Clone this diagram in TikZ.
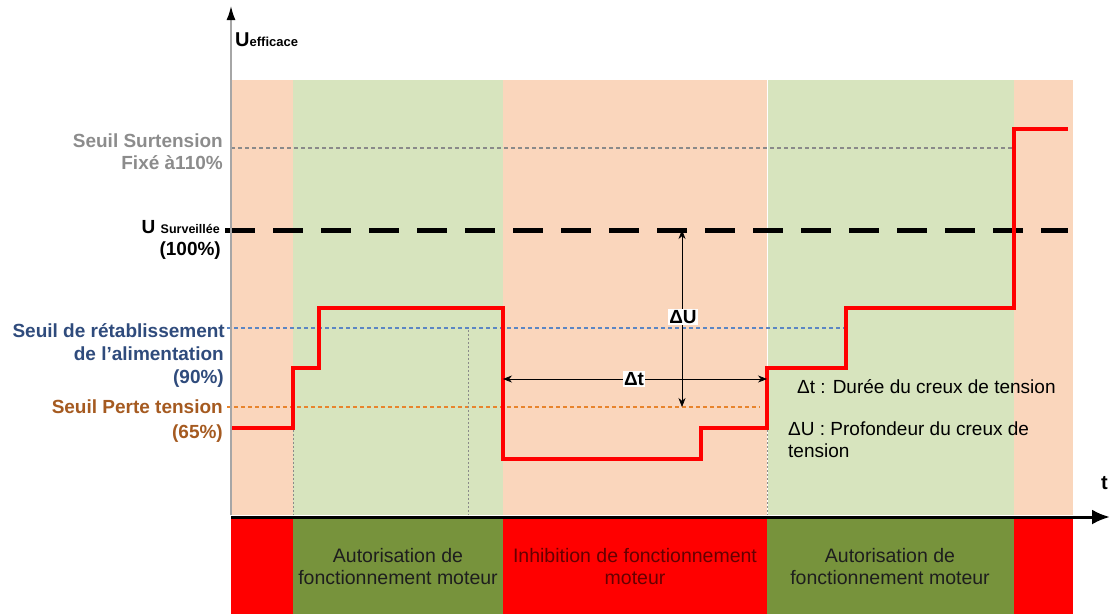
\documentclass[tikz,border=0pt]{standalone}
\usepackage{fontspec}
\setmainfont{Liberation Sans}
\usetikzlibrary{arrows.meta}

\definecolor{peach}{HTML}{FAD6BC}
\definecolor{sage}{HTML}{D7E4BE}
\definecolor{olive}{HTML}{77933C}
\definecolor{alarm}{HTML}{FF0000}
\definecolor{greylbl}{HTML}{8C8C8C}
\definecolor{bluelbl}{HTML}{2F4B7C}
\definecolor{brownlbl}{HTML}{A55A20}
\definecolor{bluedot}{HTML}{5B86C4}
\definecolor{orangedot}{HTML}{E8842C}
\definecolor{greydot}{HTML}{8A8A8A}
\definecolor{darkred}{HTML}{660000}
\definecolor{bartext}{HTML}{1E1E1E}

\newcommand\fsz[1]{\fontsize{#1}{#1}\selectfont}

\begin{document}
\begin{tikzpicture}[x=1pt,y=-1pt,
  lbl/.style={anchor=base east, inner sep=0pt, font=\fsz{19}\bfseries},
  note/.style={anchor=base west, inner sep=0pt, font=\fsz{19}},
  bartxt/.style={anchor=base, inner sep=0pt, font=\fsz{19.5}},
  thr/.style={line width=2pt, dash pattern=on 4pt off 3pt},
  guide/.style={greydot, line width=0.6pt, dash pattern=on 2pt off 2pt},
  dim/.style={line width=0.6pt, {Stealth[length=9pt,width=7pt]}-{Stealth[length=9pt,width=7pt]}},
  dimlbl/.style={fill=white, inner sep=1pt, font=\fsz{19}\bfseries},
  signal/.style={alarm, line width=4pt, line join=miter}
]
\useasboundingbox (0,0) rectangle (1110,614);

% state bands behind the curve
\fill[peach] (231,80) rectangle (293,515);
\fill[sage]  (293,80) rectangle (503,515);
\fill[peach] (503,80) rectangle (767,515);
\fill[sage]  (767,80) rectangle (1014,515);
\fill[peach] (1014,80) rectangle (1073,515);
\draw[white, line width=1pt] (767,80) -- (767,515);

% motor state bar
\fill[alarm] (231,518) rectangle (293,614);
\fill[olive] (293,518) rectangle (503,614);
\fill[alarm] (503,518) rectangle (767,614);
\fill[olive] (767,518) rectangle (1014,614);
\fill[alarm] (1014,518) rectangle (1073,614);

\node[bartxt, text=bartext] (a1) at (398,562) {Autorisation de};
\node[bartxt, text=bartext] (a2) at (398,584) {fonctionnement moteur};
\node[bartxt, text=darkred] (i1) at (635,562) {Inhibition de fonctionnement};
\node[bartxt, text=darkred] (i2) at (635,584) {moteur};
\node[bartxt, text=bartext] (b1) at (890,562) {Autorisation de};
\node[bartxt, text=bartext] (b2) at (890,584) {fonctionnement moteur};

% threshold levels
\draw[thr, greydot] (231,148) -- (1014,148);
\draw[black, line width=5pt, dash pattern=on 30pt off 18pt] (225,230) -- (1068,230);
\draw[thr, bluedot] (227,328) -- (845,328);
\draw[thr, orangedot] (227,407) -- (760,407);

% vertical guides
\draw[guide] (293,430) -- (293,515);
\draw[guide] (468,330) -- (468,515);
\draw[guide] (767,430) -- (767,515);

% rms voltage
\draw[signal] (231,428) -- (293,428) -- (293,368) -- (319,368) -- (319,308)
  -- (503,308) -- (503,459) -- (701,459) -- (701,428) -- (767,428)
  -- (767,368) -- (846,368) -- (846,308) -- (1014,308) -- (1014,129) -- (1068,129);

% dip dimensions
\coordinate (dtl) at (503,379);
\coordinate (dtr) at (767,379);
\coordinate (dua) at (682,230);
\coordinate (dub) at (682,407);
\draw[dim] (dtl) -- (dtr);
\draw[dim] (dua) -- (dub);
\node[dimlbl] (dt) at (634,379) {Δt};
\node[dimlbl] (du) at (683,317) {ΔU};

% axes
\draw[black, line width=3pt, -{Latex[length=18pt,width=15pt]}] (231,517) -- (1110,517);
\draw[gray!70, line width=1.5pt, -{Latex[black,length=14pt,width=9pt]}] (231,515) -- (231,6);
\node[anchor=base west, inner sep=0pt, font=\fsz{20}\bfseries] (t) at (1101,489) {t};
\node[anchor=base west, inner sep=0pt, font=\fsz{20}\bfseries] (ueff) at (235,46)
  {U{\fsz{13}efficace}};

% level labels
\node[lbl, text=greylbl] (s1) at (223,147) {Seuil Surtension};
\node[lbl, text=greylbl] (s2) at (223,169) {Fixé à110\%};
\node[lbl] (us1) at (220,233) {U {\fsz{12.5}Surveillée}};
\node[lbl] (us2) at (221,255) {(100\%)};
\node[lbl, text=bluelbl] (r1) at (225,337) {Seuil de rétablissement};
\node[lbl, text=bluelbl] (r2) at (224,360) {de l’alimentation};
\node[lbl, text=bluelbl] (r3) at (224,383) {(90\%)};
\node[lbl, text=brownlbl] (p1) at (223,413) {Seuil Perte tension};
\node[lbl, text=brownlbl] (p2) at (223,438) {(65\%)};

% legend
\node[note] (n1) at (797,393) {Δt : Durée du creux de tension};
\node[note] (n2) at (788,435) {ΔU : Profondeur du creux de};
\node[note] (n3) at (788,457) {tension};
\end{tikzpicture}
\end{document}
